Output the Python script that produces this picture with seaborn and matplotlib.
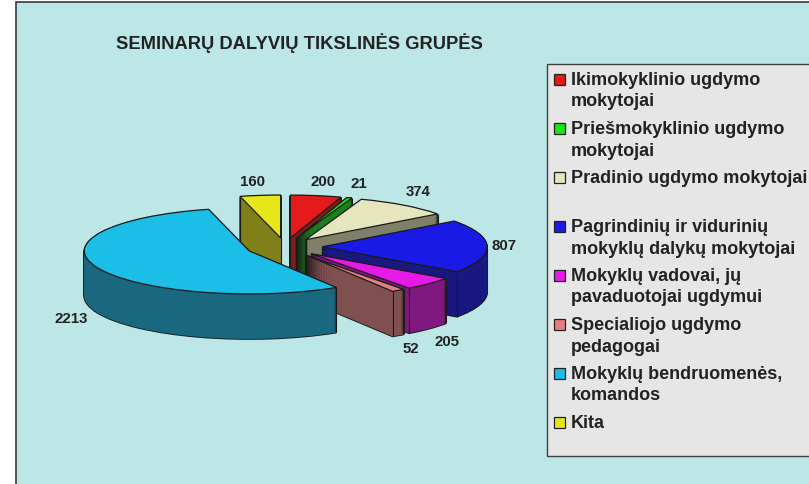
import numpy as np
import matplotlib
matplotlib.use("Agg")
import matplotlib.pyplot as plt
from matplotlib.patches import Rectangle
import seaborn as sns

title = "SEMINARŲ DALYVIŲ TIKSLINĖS GRUPĖS"
values = [200, 21, 374, 807, 205, 52, 2213, 160]
value_labels = ["200", "21", "374", "807", "205", "52", "2213", "160"]
legend_labels = [
    "Ikimokyklinio ugdymo\nmokytojai",
    "Priešmokyklinio ugdymo\nmokytojai",
    "Pradinio ugdymo mokytojai\n ",
    "Pagrindinių ir vidurinių\nmokyklų dalykų mokytojai",
    "Mokyklų vadovai, jų\npavaduotojai ugdymui",
    "Specialiojo ugdymo\npedagogai",
    "Mokyklų bendruomenės,\nkomandos",
    "Kita",
]
top_colors = ["#E61A1A", "#1AE61A", "#E6E6BE", "#1A1AE6", "#E61AE6", "#E68080", "#1ABEE6", "#E6E61A"]
side_colors = ["#7F1D1D", "#1A801A", "#80806A", "#181880", "#80187F", "#804F4F", "#1A687F", "#80801A"]
explode_frac = [0.21, 0.21, 0.21, 0.225, 0.22, 0.22, 0.235, 0.21]

W, H = 809, 484
CX, CY, RX, RY, DEPTH = 285, 247, 165, 43, 45
BG, PANEL, INK = "#BDE6E6", "#E6E6E6", "#222222"
# back to front painting order of the slices
paint_order = [7, 0, 1, 2, 3, 4, 5, 6]
label_pos = [(323, 182), (359, 184), (418, 192), (504, 246), (447, 342), (411, 349), (71, 319), (253, 182)]

sns.set_theme(style="white")
plt.rcParams["font.family"] = ["Liberation Sans", "DejaVu Sans"]
top_palette = sns.color_palette(top_colors)
side_palette = sns.color_palette(side_colors)

fig = plt.figure(figsize=(W / 100, H / 100), dpi=100, facecolor="white")
ui = fig.add_axes([0, 0, 1, 1], zorder=0)
ui.set_xlim(0, W)
ui.set_ylim(H, 0)
ui.axis("off")
ui.add_patch(Rectangle((16.5, 1.5), W, H, facecolor=BG, edgecolor="#3a3a3a", lw=1.2))

ax = fig.add_axes([0, 0, 1, 1], zorder=1)
ax.patch.set_alpha(0)


def pie_at(depth, colors, **wedgeprops):
    wedges, _ = ax.pie(values, explode=explode_frac, colors=colors, startangle=90,
                       counterclock=False, radius=1, center=(0, -depth / RY),
                       wedgeprops=wedgeprops)
    return wedges


z = {i: (rank + 1) * 10 for rank, i in enumerate(paint_order)}
for d in np.arange(DEPTH, 0, -1.0):
    for i, w in enumerate(pie_at(d, side_palette, edgecolor="#1a1a1a", linewidth=1.3)):
        w.set_zorder(z[i] + 1)
    for i, w in enumerate(pie_at(d, side_palette, edgecolor="none", linewidth=0)):
        w.set_zorder(z[i] + 2)

tops = pie_at(0, top_palette, edgecolor="#1a1a1a", linewidth=0.9)
for i, w in enumerate(tops):
    w.set_zorder(z[i] + 4)
    cx, cy = w.center
    corners = [(cx, cy)]
    for t in (w.theta1, w.theta2):
        a = np.deg2rad(t)
        corners.append((cx + w.r * np.cos(a), cy + w.r * np.sin(a)))
    for px, py in corners:
        if not w.get_path().contains_point((px, py - 0.03)):
            ax.plot([px, px], [py, py - DEPTH / RY], color="#1a1a1a", lw=0.8,
                    zorder=z[i] + 3, solid_capstyle="butt")

ax.set_aspect("auto")
ax.set_xlim((0 - CX) / RX, (W - CX) / RX)
ax.set_ylim((CY - H) / RY, CY / RY)
ax.axis("off")

over = fig.add_axes([0, 0, 1, 1], zorder=2)
over.set_xlim(0, W)
over.set_ylim(H, 0)
over.axis("off")
over.patch.set_alpha(0)

over.text(299.5, 43, title, ha="center", va="center", fontsize=13.2, fontweight="bold", color=INK)
for text, (x, y) in zip(value_labels, label_pos):
    over.text(x, y, text, ha="center", va="center", fontsize=10.8, fontweight="bold", color=INK)

over.add_patch(Rectangle((547.5, 63.5), W, 392, facecolor=PANEL, edgecolor="#404040", lw=1.0))
baseline = 85
for label, color in zip(legend_labels, top_palette):
    lines = label.split("\n")
    over.add_patch(Rectangle((554.5, baseline - 11), 10.5, 10.5, facecolor=color, edgecolor="#222222", lw=0.9))
    for k, line in enumerate(lines):
        over.text(571, baseline + k * 21.5, line, ha="left", va="baseline",
                  fontsize=13, fontweight="bold", color=INK)
    baseline += 49

fig.savefig("out.png", dpi=100)
